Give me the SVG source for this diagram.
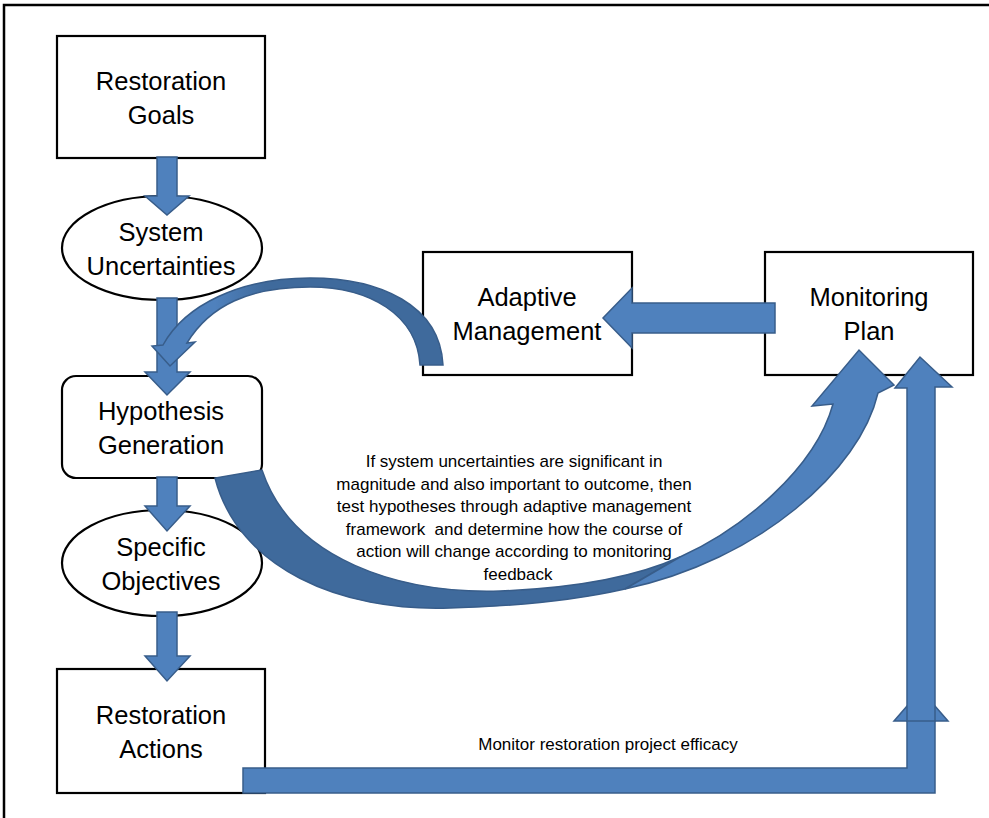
<svg xmlns="http://www.w3.org/2000/svg" width="989" height="818" viewBox="0 0 989 818">
<style>
.box{fill:#fff;stroke:#000;stroke-width:2.2}
.arr{fill:#4F81BD;stroke:#385D8A;stroke-width:1.5;stroke-linejoin:miter}
.dark{fill:#3F6A9C;stroke:#385D8A;stroke-width:1.5}
.lbl{font-family:"Liberation Sans",Arial,sans-serif;font-size:25.5px;text-anchor:middle;fill:#000}
.note{font-family:"Liberation Sans",Arial,sans-serif;font-size:17px;text-anchor:middle;fill:#000}
</style>
<defs>
<linearGradient id="gSmall" gradientUnits="userSpaceOnUse" x1="215" y1="0" x2="265" y2="0">
<stop offset="0" stop-color="#4F81BD"/>
<stop offset="1" stop-color="#3F6A9C"/>
</linearGradient>
</defs>
<rect width="989" height="818" fill="#fff"/>
<path d="M4,818 V5 H989" fill="none" stroke="#000" stroke-width="2.5"/>

<g id="restoration-goals">
<rect class="box" x="57" y="36" width="208" height="122"/>
<text class="lbl" x="161" y="90">Restoration</text>
<text class="lbl" x="161" y="124">Goals</text>
</g>
<g id="system-uncertainties">
<ellipse class="box" cx="162" cy="248" rx="100" ry="52"/>
<text class="lbl" x="161" y="241">System</text>
<text class="lbl" x="161" y="275">Uncertainties</text>
</g>
<g id="hypothesis-generation">
<rect class="box" x="62" y="376" width="200" height="102" rx="14"/>
<text class="lbl" x="161" y="420">Hypothesis</text>
<text class="lbl" x="161" y="454">Generation</text>
</g>
<g id="specific-objectives">
<ellipse class="box" cx="162" cy="563" rx="100" ry="53"/>
<text class="lbl" x="161" y="556">Specific</text>
<text class="lbl" x="161" y="590">Objectives</text>
</g>
<g id="restoration-actions">
<rect class="box" x="57" y="669" width="208" height="124"/>
<text class="lbl" x="161" y="724">Restoration</text>
<text class="lbl" x="161" y="758">Actions</text>
</g>
<g id="adaptive-management">
<rect class="box" x="423" y="252" width="209" height="123"/>
<text class="lbl" x="527" y="306">Adaptive</text>
<text class="lbl" x="527" y="340">Management</text>
</g>
<g id="monitoring-plan">
<rect class="box" x="765" y="252" width="208" height="123"/>
<text class="lbl" x="869" y="306">Monitoring</text>
<text class="lbl" x="869" y="340">Plan</text>
</g>

<g id="connectors">
<path class="arr" d="M157,157 H177 V196 H189 L167,215 L145,196 H157 Z"/>
<path class="arr" d="M157,298 H177 V372 H190 L167,395 L145,372 H157 Z"/>
<path class="arr" d="M157,477 H177 V506 H190 L167,531 L145,506 H157 Z"/>
<path class="arr" d="M157,612 H177 V656 H190 L167,681 L145,656 H157 Z"/>
<path class="arr" d="M775,303 V333 H632 V348 L603,318 L632,288 V303 Z"/>
<path d="M443,365 C440,305 380,278 310,278 C240,278 185,305 163,345 L152,346 L170,366 L195,342 L187,343 C210,305 250,287 310,287 C370,287 417,315 420,365 Z" fill="url(#gSmall)" stroke="#385D8A" stroke-width="1.5"/>
<path class="dark" d="M215,478 C238,568 340,612 450,608 C530,606 585,598 625,589 L680,557 C640,575 580,588 500,591 C400,594 292,560 262,470 Z"/>
<path class="arr" d="M625,589 C760,560 860,470 878,393 L894,385 L859,350 L812,406 L833,404 C815,470 740,530 680,557 Z"/>
<path class="arr" d="M243,768 H907 V721 H894 L921,690 L948,721 H935 V793 H243 Z"/>
<path class="arr" d="M907,721 V388 H895 L920,357 L952,387 H935 V721 Z"/>
</g>

<g id="notes">
<text class="note" x="514" y="467">If system uncertainties are significant in</text>
<text class="note" x="514" y="490">magnitude and also important to outcome, then</text>
<text class="note" x="514" y="512">test hypotheses through adaptive management</text>
<text class="note" x="514" y="535" xml:space="preserve">framework  and determine how the course of</text>
<text class="note" x="514" y="557">action will change according to monitoring</text>
<text class="note" x="518" y="580">feedback</text>
<text class="note" x="608" y="750">Monitor restoration project efficacy</text>
</g>
</svg>
